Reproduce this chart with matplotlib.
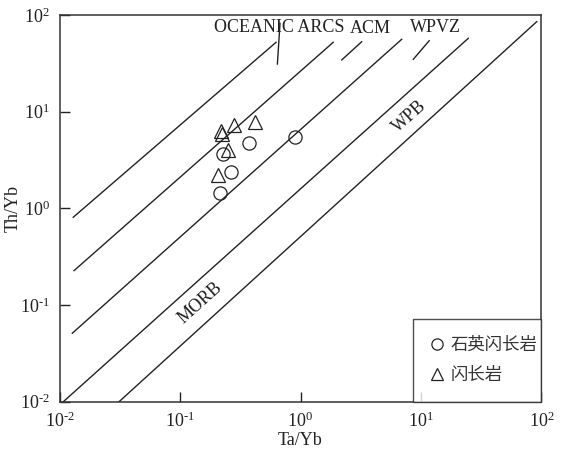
import matplotlib
matplotlib.use('Agg')
import matplotlib.pyplot as plt

plt.rcParams['font.family'] = ['Liberation Serif', 'Noto Sans CJK SC', 'DejaVu Sans']
plt.rcParams['mathtext.fontset'] = 'custom'
plt.rcParams['mathtext.rm'] = 'Liberation Serif'
plt.rcParams['mathtext.it'] = 'Liberation Serif:italic'
plt.rcParams['mathtext.bf'] = 'Liberation Serif:bold'

# ---- data ----
quartz_diorite_ta_yb = [0.90, 0.374, 0.229, 0.265, 0.215]
quartz_diorite_th_yb = [5.43, 4.71, 3.63, 2.36, 1.43]
diorite_ta_yb = [0.220, 0.224, 0.283, 0.419, 0.252, 0.206]
diorite_th_yb = [6.31, 5.88, 7.28, 7.88, 4.02, 2.22]
series_labels = ['石英闪长岩', '闪长岩']

# boundary lines (Ta/Yb, Th/Yb) start and end
boundary_x_start = [0.0130, 0.0132, 0.01277, 0.01075, 0.0312]
boundary_y_start = [0.809, 0.227, 0.0511, 0.01, 0.01]
boundary_x_end = [0.627, 1.87, 6.92, 24.7, 91.3]
boundary_y_end = [52.2, 52.2, 56.1, 57.4, 85.3]

# leader lines for field labels
leader_x_start = [0.676, 2.20, 8.63]
leader_y_start = [82.0, 34.3, 34.8]
leader_x_end = [0.643, 3.22, 11.7]
leader_y_end = [31.1, 52.9, 54.2]

field_labels = ['OCEANIC ARCS', 'ACM', 'WPVZ']
field_label_x = [0.66, 3.78, 13.3]
field_label_y = [75.0, 72.0, 75.0]

rot_labels = ['MORB', 'WPB']
rot_label_x = [0.147, 7.95]
rot_label_y = [0.105, 8.87]

tick_values = [1e-2, 1e-1, 1e0, 1e1, 1e2]
tick_labels = [r'$\mathregular{10^{\text{-}2}}$', r'$\mathregular{10^{\text{-}1}}$', r'$\mathregular{10^{0}}$',
               r'$\mathregular{10^{1}}$', r'$\mathregular{10^{2}}$']

fig = plt.figure(figsize=(5.63, 4.53), dpi=100)
ax = fig.add_axes([0.1057, 0.1132, 0.8561, 0.8537])
ax.set_xscale('log')
ax.set_yscale('log')
ax.set_xlim(1e-2, 1e2)
ax.set_ylim(1e-2, 1e2)

for x0, y0, x1, y1 in zip(boundary_x_start, boundary_y_start, boundary_x_end, boundary_y_end):
    ax.plot([x0, x1], [y0, y1], color='#222222', lw=1.0)
for x0, y0, x1, y1 in zip(leader_x_start, leader_y_start, leader_x_end, leader_y_end):
    ax.plot([x0, x1], [y0, y1], color='#222222', lw=1.0)

for t, x, y in zip(field_labels, field_label_x, field_label_y):
    ax.text(x, y, t, ha='center', va='center', fontsize=13, color='#222222')
for t, x, y in zip(rot_labels, rot_label_x, rot_label_y):
    ax.text(x, y, t, ha='center', va='center', fontsize=13, rotation=42,
            rotation_mode='anchor', color='#222222')

ax.plot(quartz_diorite_ta_yb, quartz_diorite_th_yb, linestyle='none', marker='o',
        markersize=9.5, markerfacecolor='none', markeredgecolor='#222222', markeredgewidth=0.9,
        label=series_labels[0])
ax.plot(diorite_ta_yb, diorite_th_yb, linestyle='none', marker='^',
        markersize=10, markerfacecolor='none', markeredgecolor='#222222', markeredgewidth=0.9,
        label=series_labels[1])

ax.set_xticks(tick_values)
ax.set_xticklabels(tick_labels)
ax.set_yticks(tick_values)
ax.set_yticklabels(tick_labels)
ax.minorticks_off()
ax.tick_params(axis='both', which='major', direction='in', length=7, width=1.0,
               labelsize=13, colors='#222222')
ax.tick_params(axis='x', pad=7)
ax.tick_params(axis='y', pad=7)
for s in ax.spines.values():
    s.set_linewidth(1.1)
    s.set_color('#333333')

ax.set_xlabel('Ta/Yb', fontsize=13, color='#222222', va='center')
ax.set_ylabel('Th/Yb', fontsize=13, color='#222222', va='center')
ax.xaxis.set_label_coords(0.5, -0.099)
ax.yaxis.set_label_coords(-0.0965, 0.5)

leg = ax.legend(loc='lower left', bbox_to_anchor=(0.733, 0.0, 0.267, 0.222), mode='expand',
                frameon=True, fancybox=False, edgecolor='#222222', borderaxespad=0.0,
                prop={'family': ['Noto Sans CJK SC'], 'size': 12.5}, markerscale=0.85,
                handlelength=0.8, handletextpad=0.35, labelspacing=0.7, borderpad=1.0)
leg.get_frame().set_linewidth(1.0)
for t in leg.get_texts():
    t.set_color('#333333')

fig.savefig('out.png', dpi=100)
